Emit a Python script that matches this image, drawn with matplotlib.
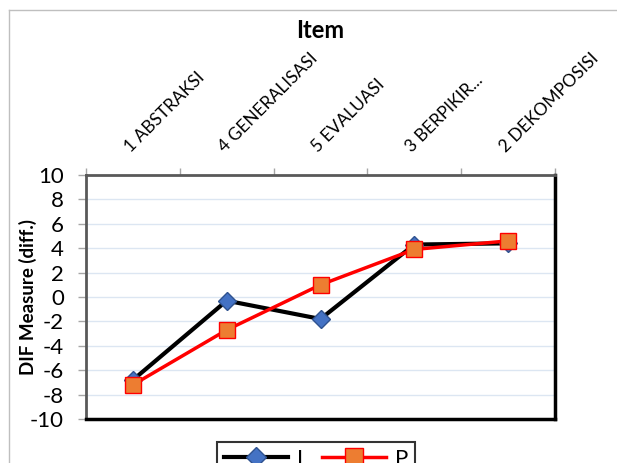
import matplotlib.pyplot as plt
from matplotlib.lines import Line2D

items = ['1 ABSTRAKSI', '4 GENERALISASI', '5 EVALUASI', '3 BERPIKIR...', '2 DEKOMPOSISI']
dif_L = [-6.8, -0.3, -1.8, 4.3, 4.4]
dif_P = [-7.2, -2.7, 1.0, 3.9, 4.6]

plt.rcParams['font.family'] = ['Lato', 'DejaVu Sans']
plt.rcParams['axes.unicode_minus'] = False

fig = plt.figure(figsize=(6.17, 4.63), dpi=100)
ax = fig.add_axes([0.1394, 0.095, 0.7601, 0.527])

x = list(range(len(items)))
ax.plot(x, dif_L, color='black', lw=3, marker='D', ms=9,
        mfc='#4472c4', mec='#2f528f', mew=1, label='L', zorder=3)
ax.plot(x, dif_P, color='#ff0000', lw=2.5, marker='s', ms=11,
        mfc='#ed7d31', mec='#ff0000', mew=1, label='P', zorder=4)

ax.set_xlim(-0.5, len(items) - 0.5)
ax.set_ylim(-10, 10)
ax.set_yticks(range(-10, 11, 2))
ax.yaxis.grid(True, color='#dce6f2', lw=1)
ax.set_axisbelow(True)
ax.tick_params(axis='y', labelsize=16, length=6, width=1, color='#a6a6a6', pad=10)

# category labels on top, tick marks between categories
ax.xaxis.tick_top()
ax.set_xticks(x)
ax.set_xticklabels(items, rotation=45, ha='left', va='bottom',
                   rotation_mode='anchor', fontsize=12.5)
ax.set_xticks([i - 0.5 for i in range(len(items) + 1)], minor=True)
ax.tick_params(axis='x', which='major', length=0, pad=14)
ax.tick_params(axis='x', which='minor', length=5, width=1, color='#a6a6a6', top=True, bottom=False)

for side in ['left', 'top']:
    ax.spines[side].set_color('#595959')
    ax.spines[side].set_linewidth(2)
for side in ['right', 'bottom']:
    ax.spines[side].set_color('black')
    ax.spines[side].set_linewidth(2.5)

ax.set_ylabel('DIF Measure (diff.)', fontsize=13.5, fontweight='bold')
ax.yaxis.set_label_coords(-0.105, 0.5)

fig.text(0.519, 1 - 31 / 463, 'Item', ha='center', va='center',
         fontsize=17, fontweight='bold')

# chart area border
fig.add_artist(Line2D([9 / 617, 1], [1 - 10 / 463] * 2, color='#bfbfbf', lw=1))
fig.add_artist(Line2D([9 / 617] * 2, [0, 1 - 10 / 463], color='#bfbfbf', lw=1))

leg = fig.legend(loc='upper center', bbox_to_anchor=(316 / 617, 1 - 431 / 463),
                 ncol=2, fontsize=16, handlelength=2.9, handletextpad=0.4,
                 columnspacing=0.6, markerscale=1.15,
                 frameon=True, fancybox=False, borderpad=0.3, borderaxespad=0.5)
leg.get_frame().set_edgecolor('black')
leg.get_frame().set_linewidth(1.5)

fig.savefig('out.png', dpi=100)
